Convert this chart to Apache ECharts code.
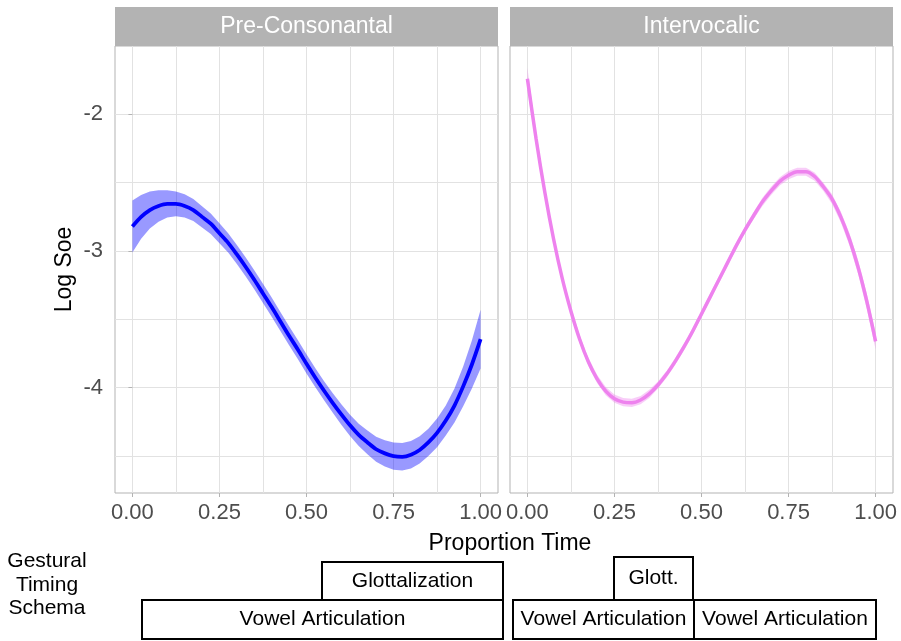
<!DOCTYPE html>
<html>
<head>
<meta charset="utf-8">
<title>Log Soe by proportion time</title>
<script src="https://cdn.jsdelivr.net/npm/echarts@6.0.0/dist/echarts.min.js"></script>
<style>
  html, body { margin: 0; padding: 0; background: #fff; }
  #chart { width: 901px; height: 641px; }
</style>
</head>
<body>
<div id="chart"></div>
<script>
// values
const panels = ['Pre-Consonantal', 'Intervocalic'];
const timePoints = [0, 0.025, 0.05, 0.075, 0.1, 0.125, 0.15, 0.175, 0.2, 0.225, 0.25,
  0.275, 0.3, 0.325, 0.35, 0.375, 0.4, 0.425, 0.45, 0.475, 0.5,
  0.525, 0.55, 0.575, 0.6, 0.625, 0.65, 0.675, 0.7, 0.725, 0.75,
  0.775, 0.8, 0.825, 0.85, 0.875, 0.9, 0.925, 0.95, 0.975, 1];
const preMean = [-2.82, -2.75, -2.70, -2.67, -2.655, -2.655, -2.67, -2.70, -2.75, -2.80, -2.87,
  -2.94, -3.025, -3.115, -3.21, -3.31, -3.41, -3.515, -3.62, -3.72, -3.825,
  -3.925, -4.02, -4.11, -4.195, -4.275, -4.345, -4.40, -4.45, -4.48, -4.50,
  -4.505, -4.49, -4.455, -4.40, -4.33, -4.24, -4.13, -3.99, -3.83, -3.645];
const preHalfWidth = [0.19, 0.16, 0.135, 0.115, 0.10, 0.09, 0.085, 0.08, 0.078, 0.075, 0.073,
  0.07, 0.07, 0.07, 0.07, 0.07, 0.07, 0.07, 0.07, 0.07, 0.07,
  0.07, 0.07, 0.072, 0.075, 0.078, 0.082, 0.087, 0.092, 0.096, 0.10,
  0.10, 0.10, 0.10, 0.10, 0.105, 0.11, 0.125, 0.145, 0.175, 0.215];
const interMean = [-1.74, -2.18, -2.57, -2.91, -3.20, -3.44, -3.645, -3.81, -3.935, -4.025, -4.08,
  -4.105, -4.11, -4.09, -4.045, -3.98, -3.90, -3.805, -3.70, -3.585, -3.46,
  -3.335, -3.21, -3.085, -2.96, -2.845, -2.74, -2.64, -2.56, -2.49, -2.445,
  -2.42, -2.42, -2.455, -2.53, -2.62, -2.75, -2.915, -3.12, -3.37, -3.66];
const interHalfWidth = [0.08, 0.055, 0.04, 0.035, 0.03, 0.03, 0.03, 0.03, 0.03, 0.03, 0.03,
  0.03, 0.03, 0.03, 0.03, 0.025, 0.025, 0.025, 0.025, 0.025, 0.025,
  0.025, 0.025, 0.025, 0.025, 0.025, 0.025, 0.03, 0.03, 0.03, 0.03,
  0.03, 0.03, 0.03, 0.03, 0.035, 0.04, 0.045, 0.05, 0.055, 0.06];
const xTicks = [0, 0.25, 0.5, 0.75, 1];
const xMinorTicks = [0.125, 0.375, 0.625, 0.875];
const yTicks = [-4, -3, -2];
const yMinorTicks = [-4.5, -3.5, -2.5];

const FONT = "'Liberation Sans', Arial, sans-serif";
const GRID_COLOR = '#e2e2e2';

let myChart = echarts.init(document.getElementById('chart'));

function pairs(ys) {
  return timePoints.map((t, i) => [t, ys[i]]);
}

// x axes: one with labels and major grid, one only for the minor grid
function makeXAxes(gridIndex) {
  return [
    {
      type: 'value', gridIndex: gridIndex, min: -0.05, max: 1.05,
      axisLine: { show: false },
      axisTick: { show: true, length: 4, customValues: xTicks, lineStyle: { color: '#b3b3b3' } },
      axisLabel: {
        customValues: xTicks, margin: 9, fontSize: 22, color: '#4d4d4d', fontFamily: FONT,
        formatter: v => v.toFixed(2)
      },
      splitLine: { show: true, lineStyle: { color: GRID_COLOR, width: 1 } }
    },
    {
      type: 'value', gridIndex: gridIndex, min: -0.05, max: 1.05, position: 'top',
      axisLine: { show: false },
      axisTick: { show: false, customValues: xMinorTicks },
      axisLabel: { show: false },
      splitLine: { show: true, lineStyle: { color: GRID_COLOR, width: 1 } }
    }
  ];
}

function makeYAxes(gridIndex, withLabels) {
  let main = {
    type: 'value', gridIndex: gridIndex, min: -4.77, max: -1.5,
    axisLine: { show: false },
    axisTick: { show: withLabels, length: 4, customValues: yTicks, lineStyle: { color: '#b3b3b3' } },
    axisLabel: {
      show: withLabels, customValues: yTicks, margin: 12, fontSize: 22, color: '#4d4d4d',
      fontFamily: FONT, formatter: v => String(v)
    },
    splitLine: { show: true, lineStyle: { color: GRID_COLOR, width: 1 } }
  };
  if (withLabels) {
    main.name = 'Log Soe';
    main.nameLocation = 'middle';
    main.nameGap = 39;
    main.nameTextStyle = { fontSize: 23, color: '#000', fontFamily: FONT };
  }
  return [
    main,
    {
      type: 'value', gridIndex: gridIndex, min: -4.77, max: -1.5, position: 'right',
      axisLine: { show: false },
      axisTick: { show: false, customValues: yMinorTicks },
      axisLabel: { show: false },
      splitLine: { show: true, lineStyle: { color: GRID_COLOR, width: 1 } }
    }
  ];
}

// confidence ribbon as one polygon (custom series) + the fitted line on top
function makeSeries(axisIndex, mean, half, lineColor, bandColor, lineWidth) {
  let bandData = timePoints.map((t, i) => [t, mean[i] - half[i], mean[i] + half[i]]);
  return [
    {
      type: 'custom', xAxisIndex: axisIndex, yAxisIndex: axisIndex, data: bandData,
      encode: { x: 0, y: [1, 2] }, silent: true, z: 2,
      renderItem: function (params, api) {
        if (params.dataIndex !== 0) return null;
        let pts = [];
        bandData.forEach(d => pts.push(api.coord([d[0], d[2]])));
        bandData.slice().reverse().forEach(d => pts.push(api.coord([d[0], d[1]])));
        return { type: 'polygon', shape: { points: pts }, style: { fill: bandColor } };
      }
    },
    {
      type: 'line', xAxisIndex: axisIndex, yAxisIndex: axisIndex, data: pairs(mean),
      smooth: 0.3, symbol: 'none', z: 5,
      lineStyle: { color: lineColor, width: lineWidth }
    }
  ];
}

function strip(left, label) {
  return [
    { type: 'rect', shape: { x: left, y: 7, width: 383, height: 39 }, style: { fill: '#b3b3b3' } },
    {
      type: 'text',
      style: {
        text: label, x: left + 191.5, y: 27, fill: '#ffffff', font: '23px ' + FONT,
        textAlign: 'center', textVerticalAlign: 'middle'
      }
    }
  ];
}

function box(x, y, w, h, label) {
  return [
    { type: 'rect', shape: { x: x, y: y, width: w, height: h }, style: { fill: '#fff', stroke: '#000', lineWidth: 2 } },
    {
      type: 'text', z: 10,
      style: {
        text: label, x: x + w / 2, y: y + h / 2, fill: '#000', font: '21px ' + FONT,
        textAlign: 'center', textVerticalAlign: 'middle'
      }
    }
  ];
}

let xAxes = makeXAxes(0).concat(makeXAxes(1));
let yAxes = makeYAxes(0, true).concat(makeYAxes(1, false));

let option = {
  animation: false,
  backgroundColor: '#fff',
  grid: [
    { left: 115, top: 46, width: 383, height: 447, show: true, borderColor: '#b3b3b3', borderWidth: 1, backgroundColor: '#fff' },
    { left: 510, top: 46, width: 383, height: 447, show: true, borderColor: '#b3b3b3', borderWidth: 1, backgroundColor: '#fff' }
  ],
  xAxis: xAxes,
  yAxis: yAxes,
  // axes 0/1 belong to the left grid, 2/3 to the right grid
  series: makeSeries(0, preMean, preHalfWidth, '#0000ff', 'rgba(0,0,255,0.4)', 3.8)
    .concat(makeSeries(2, interMean, interHalfWidth, '#ee82ee', 'rgba(238,130,238,0.4)', 3.5)),
  graphic: [].concat(
    strip(115, panels[0]),
    strip(510, panels[1]),
    [
      {
        type: 'text',
        style: {
          text: 'Proportion Time', x: 510, y: 544, fill: '#000', font: '23px ' + FONT,
          textAlign: 'center', textVerticalAlign: 'middle'
        }
      },
      {
        type: 'text',
        style: {
          text: 'Gestural\nTiming\nSchema', x: 47, y: 585, fill: '#000', font: '21px ' + FONT,
          lineHeight: 23.5, textAlign: 'center', textVerticalAlign: 'middle'
        }
      }
    ],
    box(322, 562, 181, 38, 'Glottalization'),
    box(142, 600, 361, 39, 'Vowel Articulation'),
    box(614, 557, 79, 43, 'Glott.'),
    box(513, 600, 181, 39, 'Vowel Articulation'),
    box(694, 600, 182, 39, 'Vowel Articulation')
  )
};

myChart.setOption(option);
</script>
</body>
</html>
